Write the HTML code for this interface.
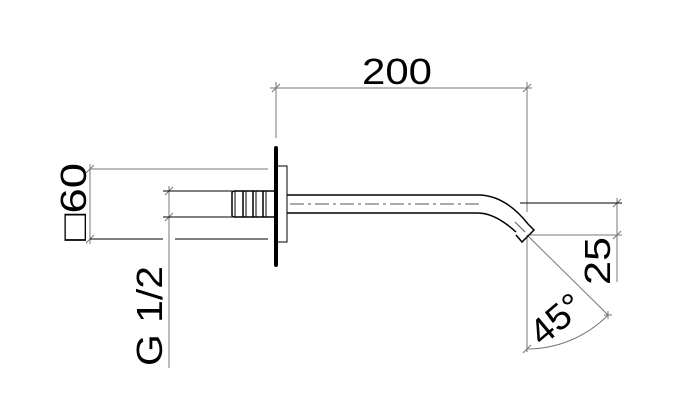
<!DOCTYPE html>
<html><head><style>body{margin:0;background:#fff}svg{display:block}</style></head><body>
<svg width="682" height="407" viewBox="0 0 682 407" xmlns="http://www.w3.org/2000/svg" font-family="Liberation Sans, sans-serif">
<g stroke="#777" stroke-width="1" fill="none">
<line x1="270" y1="88" x2="532" y2="88"/>
<line x1="276" y1="82" x2="276" y2="138"/>
<line x1="527" y1="82" x2="527" y2="212"/>
<line x1="527" y1="235" x2="527" y2="352"/>
<line x1="272" y1="92" x2="280" y2="84"/><line x1="523" y1="92" x2="531" y2="84"/>
<line x1="90" y1="164" x2="90" y2="244"/>
<line x1="86" y1="173" x2="94" y2="165"/><line x1="86" y1="243" x2="94" y2="235"/>
<line x1="90" y1="169" x2="268" y2="169"/>
<line x1="169" y1="186" x2="169" y2="368"/>
<line x1="165" y1="195" x2="173" y2="187"/><line x1="165" y1="221" x2="173" y2="213"/>
<line x1="617" y1="198" x2="617" y2="282"/>
<line x1="613" y1="207" x2="621" y2="199"/><line x1="613" y1="239" x2="621" y2="231"/>
<line x1="530" y1="235" x2="622" y2="235"/>
<line x1="527" y1="235" x2="608" y2="315"/>
<path d="M608 315 A114 114 0 0 1 527 349"/>
<line x1="604" y1="315" x2="612" y2="315"/><line x1="608" y1="311" x2="608" y2="319"/>
<line x1="523" y1="353" x2="531" y2="345"/>
</g>
<g stroke="#000" stroke-width="1" fill="none">
<line x1="90" y1="239" x2="163" y2="239"/><line x1="175" y1="239" x2="268" y2="239"/>
<line x1="163" y1="191" x2="232" y2="191"/><line x1="163" y1="217" x2="232" y2="217"/>
<line x1="520" y1="203" x2="622" y2="203"/>
<rect x="276" y="166" width="11" height="76"/>
<rect x="232" y="191" width="44" height="26" rx="2" stroke-width="1.5"/>
<line x1="235" y1="191" x2="235" y2="217"/><line x1="243" y1="191" x2="243" y2="217" stroke-width="1.5"/>
<line x1="246" y1="191" x2="246" y2="217"/><line x1="253" y1="191" x2="253" y2="217" stroke-width="1.5"/>
<line x1="256" y1="191" x2="256" y2="217"/><line x1="263" y1="191" x2="263" y2="217" stroke-width="1.5"/>
<line x1="266" y1="191" x2="266" y2="217"/>
<path d="M287 195 L478 195 Q505 195 528 224 M287 213 L478 213 Q495 213 516 232" stroke-width="1.5"/>
<path d="M528 224 L534 230 L522 242 L516 235" stroke-width="1.5"/>
<line x1="290" y1="204" x2="480" y2="204" stroke-dasharray="14 4 3 4" stroke="#555"/>
<line x1="515" y1="222" x2="525" y2="232" stroke="#555"/>
<line x1="276" y1="148" x2="276" y2="265" stroke-width="4" stroke-linecap="round"/>
</g>
<g fill="#000" font-size="36">
<text x="362" y="84" textLength="70" lengthAdjust="spacingAndGlyphs">200</text>
<text transform="translate(86,241) rotate(-90)" textLength="78" lengthAdjust="spacingAndGlyphs">□60</text>
<text transform="translate(162,366) rotate(-90)" textLength="100" lengthAdjust="spacingAndGlyphs">G 1/2</text>
<text transform="translate(610,285) rotate(-90)" textLength="48" lengthAdjust="spacingAndGlyphs">25</text>
<text transform="translate(542,347) rotate(-40)" textLength="58" lengthAdjust="spacingAndGlyphs">45°</text>
</g>
</svg>
</body></html>
